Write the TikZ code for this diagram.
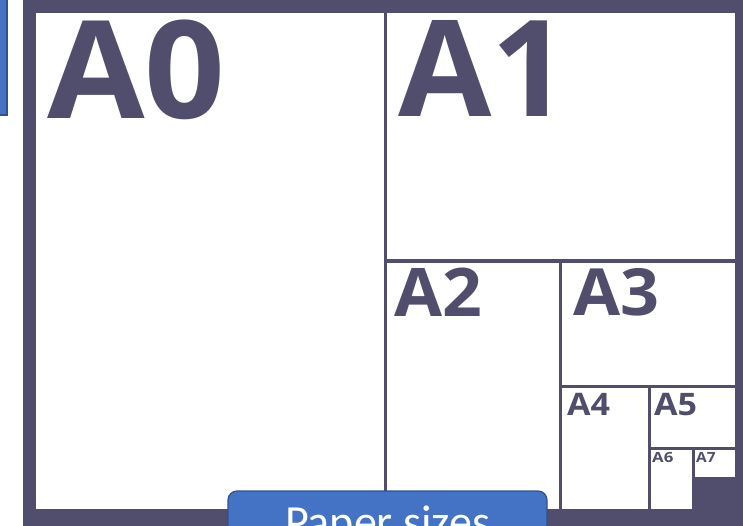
\documentclass[tikz,border=0pt]{standalone}
\usepackage{fontspec}
\newfontfamily\lblfont{Open Sans}
\newfontfamily\capfont{Carlito}
\definecolor{frame}{HTML}{504E6C}
\definecolor{officeblue}{HTML}{4472C4}
\definecolor{officeblueline}{HTML}{2F528F}
\tikzset{
  sheet/.style={fill=white},
  sizelbl/.style={anchor=base west, inner sep=0pt, text=frame, font=\lblfont\bfseries\fontsize{#1}{#1}\selectfont},
}
\newcommand{\wide}[2]{\scalebox{#1}[1]{#2}}
\begin{document}
\begin{tikzpicture}[x=1pt,y=-1pt]
\useasboundingbox (0,0) rectangle (743,526);
\clip (0,0) rectangle (743,526);
% frame background
\fill[frame] (23,-5) rectangle (750,530);
% sheets
\path[sheet] (36,13) rectangle (384,509);
\path[sheet] (387,13) rectangle (735,259);
\path[sheet] (387,263) rectangle (559,509);
\path[sheet] (562,263) rectangle (735,385);
\path[sheet] (562,388) rectangle (648,509);
\path[sheet] (651,388) rectangle (735,447);
\path[sheet] (651,450) rectangle (692,509);
\path[sheet] (695,450) rectangle (735,477);
% labels
\node[sizelbl=136] (a0) at (47,119) {\wide{1.04}{A0}};
\node[sizelbl=134] (a1) at (398,117) {\wide{1.01}{A1}};
\node[sizelbl=67] (a2) at (394,316) {\wide{1.04}{A2}};
\node[sizelbl=65] (a3) at (573,315) {\wide{1.05}{A3}};
\node[sizelbl=31] (a4) at (567,415) {\wide{1.1}{A4}};
\node[sizelbl=31] (a5) at (654,415) {\wide{1.1}{A5}};
\node[sizelbl=14] (a6) at (652,462.5) {\wide{1.2}{A6}};
\node[sizelbl=14] (a7) at (696,462.5) {\wide{1.1}{A7}};
% blue boxes
\draw[fill=officeblue, draw=officeblueline, line width=1.2pt] (-10,-10) rectangle (7,115);
\draw[fill=officeblue, draw=officeblueline, line width=1.2pt, rounded corners=9pt] (228,491) rectangle (547,570);
\node[anchor=base, inner sep=0pt, text=white, font=\capfont\fontsize{46}{46}\selectfont] (cap) at (387.5,537) {Paper sizes};
\end{tikzpicture}
\end{document}
